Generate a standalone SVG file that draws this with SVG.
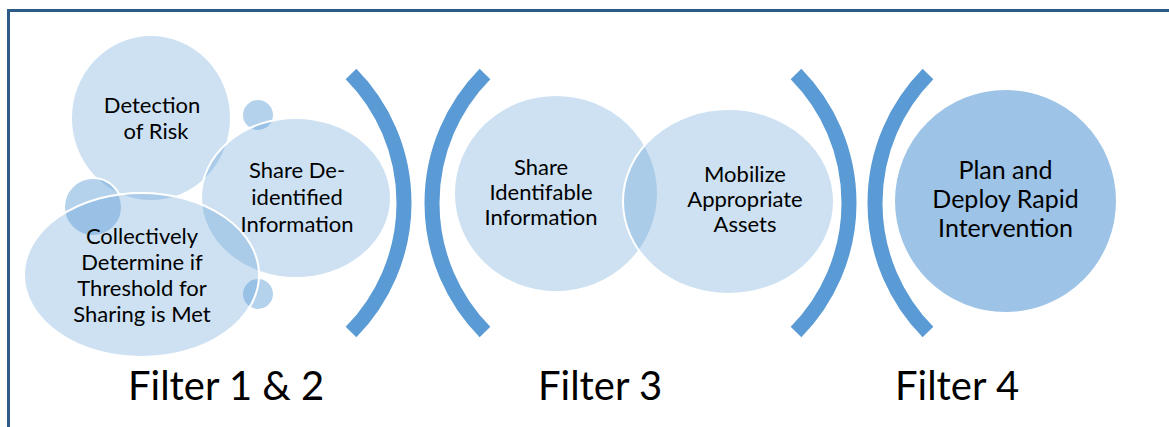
<svg xmlns="http://www.w3.org/2000/svg" width="1169" height="427" viewBox="0 0 1169 427">
  <style>
    .bubble { fill: #5b9bd5; fill-opacity: 0.3; stroke: #ffffff; stroke-width: 2; }
    .dot { fill: #5b9bd5; fill-opacity: 0.45; stroke: #ffffff; stroke-width: 2; }
    .goal { fill: #9dc3e6; stroke: #ffffff; stroke-width: 2; }
    .lbl { font-family: Lato, "Liberation Sans", sans-serif; font-size: 22px; fill: #000000; text-anchor: middle; }
    .goal-lbl { font-size: 25px; }
    .bracket { fill: none; stroke: #5b9bd5; stroke-width: 15; stroke-linecap: butt; }
    .stage { font-family: Lato, "Liberation Sans", sans-serif; font-size: 40px; fill: #000000; }
  </style>

  <rect x="0" y="0" width="1169" height="427" fill="#ffffff"/>

  <!-- frame along the top and left edges -->
  <path d="M8.5,427 V10.5 H1169" fill="none" stroke="#2e5a88" stroke-width="3"/>

  <!-- Filter 1 & 2 cluster -->
  <g id="node-detection">
    <ellipse class="bubble" cx="151" cy="118" rx="80" ry="83"/>
    <text class="lbl" x="152" y="113">Detection</text>
    <text class="lbl" x="156" y="139">of Risk</text>
  </g>
  <g id="accent-dots">
    <circle class="dot" cx="258" cy="115" r="16"/>
    <circle class="dot" cx="93" cy="207" r="29"/>
    <circle class="dot" cx="258" cy="294" r="16"/>
  </g>
  <g id="node-share-deidentified">
    <ellipse class="bubble" cx="296" cy="198" rx="95" ry="80"/>
    <text class="lbl" x="297" y="178">Share De-</text>
    <text class="lbl" x="297" y="205">identified</text>
    <text class="lbl" x="297" y="232">Information</text>
  </g>
  <g id="node-threshold">
    <ellipse class="bubble" cx="141.5" cy="275" rx="117.5" ry="82"/>
    <text class="lbl" x="142" y="244">Collectively</text>
    <text class="lbl" x="142" y="270">Determine if</text>
    <text class="lbl" x="142" y="296">Threshold for</text>
    <text class="lbl" x="142" y="322">Sharing is Met</text>
  </g>

  <!-- Filter 3 pair -->
  <g id="node-share-identifiable">
    <ellipse class="bubble" cx="556" cy="193.5" rx="102" ry="98.5"/>
    <text class="lbl" x="541" y="175">Share</text>
    <text class="lbl" x="541" y="200">Identifable</text>
    <text class="lbl" x="541" y="225">Information</text>
  </g>
  <g id="node-mobilize">
    <ellipse class="bubble" cx="728.5" cy="201.5" rx="105.5" ry="92.5"/>
    <text class="lbl" x="745" y="182">Mobilize</text>
    <text class="lbl" x="745" y="207">Appropriate</text>
    <text class="lbl" x="745" y="232">Assets</text>
  </g>

  <!-- Filter 4 -->
  <g id="node-intervention">
    <ellipse class="goal" cx="1005.5" cy="201" rx="111.5" ry="112"/>
    <text class="lbl goal-lbl" x="1005.5" y="179">Plan and</text>
    <text class="lbl goal-lbl" x="1005.5" y="208">Deploy Rapid</text>
    <text class="lbl goal-lbl" x="1005.5" y="237">Intervention</text>
  </g>

  <!-- bracket pairs separating the filter stages -->
  <g id="connectors">
    <path class="bracket" d="M351,74 A183.5,183.5 0 0 1 351,332"/>
    <path class="bracket" d="M485,74 A183.5,183.5 0 0 0 485,332"/>
    <path class="bracket" d="M796,74 A183.5,183.5 0 0 1 796,332"/>
    <path class="bracket" d="M928,74 A183.5,183.5 0 0 0 928,332"/>
  </g>

  <!-- stage captions -->
  <g id="captions">
    <text class="stage" x="128" y="400">Filter 1 &amp; 2</text>
    <text class="stage" x="538" y="400">Filter 3</text>
    <text class="stage" x="895" y="400">Filter 4</text>
  </g>
</svg>
